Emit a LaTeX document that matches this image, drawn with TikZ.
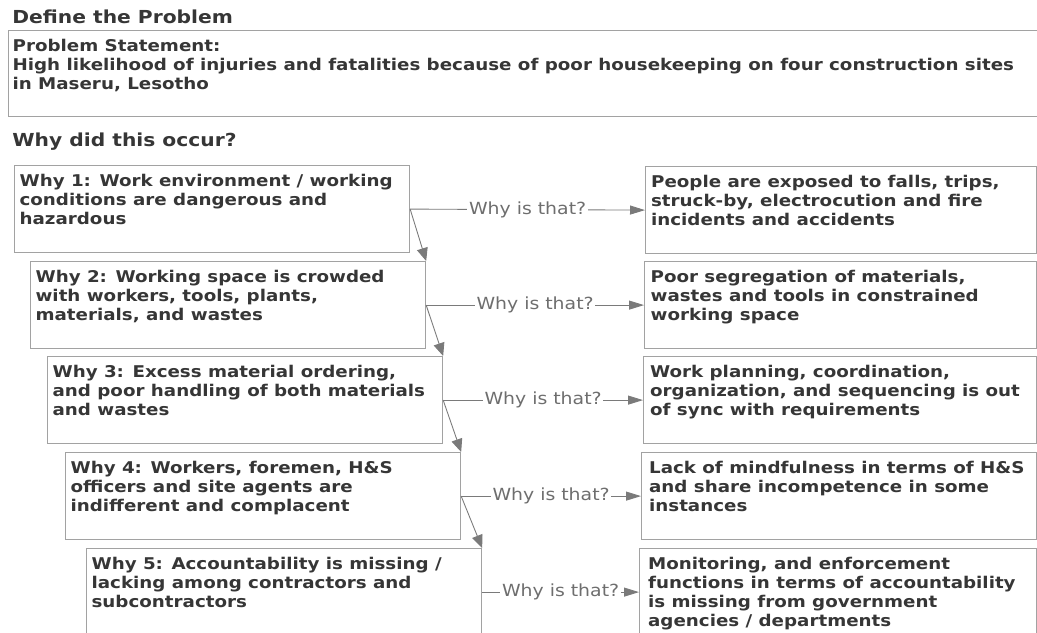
\documentclass[tikz,border=0pt]{standalone}
\usepackage{fontspec}
\setmainfont[FakeStretch=1.13]{DejaVu Sans}
\usetikzlibrary{arrows.meta,positioning}
\definecolor{txtgray}{HTML}{363636}
\definecolor{linegray}{HTML}{A2A2A2}
\definecolor{arrgray}{HTML}{7A7A7A}
\definecolor{lblgray}{HTML}{6E6E6E}
\newcommand{\whytext}[1]{\parbox[c][1.44cm][t]{7.7cm}{\begin{tabular}[t]{@{}l@{}}#1\end{tabular}}}
\newcommand{\anstext}[1]{\parbox[c][1.44cm][t]{7.6cm}{\begin{tabular}[t]{@{}l@{}}#1\end{tabular}}}
\tikzset{
    bodyfont/.style={font=\bfseries\fontsize{9.2}{10.8}\selectfont},
    headtag/.style={text=txtgray,inner sep=0pt,anchor=west,font=\bfseries\fontsize{10.2}{12}\selectfont},
    probbox/.style={bodyfont,draw=linegray,line width=0.7pt,anchor=north west,text=txtgray,inner xsep=0.08cm,inner ysep=0.15cm},
    whybox/.style={bodyfont,draw=linegray,line width=0.7pt,anchor=north west,text=txtgray,inner xsep=0.1cm,inner ysep=0.15cm,minimum width=7.9cm},
    ansbox/.style={whybox,minimum width=#1},
    whyline/.style={draw=arrgray,line width=0.5pt,-{Triangle[length=0.3cm,width=0.18cm]}},
    stepline/.style={draw=arrgray,line width=0.5pt,-{Triangle[length=0.26cm,width=0.22cm]}},
    whylabel/.style={fill=white,inner sep=1pt,text=lblgray,font=\mdseries\fontsize{9.5}{11}\selectfont}
}

\begin{document}
\begin{tikzpicture}[x=0.02cm,y=-0.02cm]
        \useasboundingbox (0,0) rectangle (1037,632);

        % Define the Problem
        \node[headtag] (probtitle) at (12,17) {Define the Problem};
        \node[probbox] (probstatement) at (8,30) {\parbox[c][1.42cm][t]{20.5cm}{\begin{tabular}[t]{@{}l@{}}Problem Statement:\\
            High likelihood of injuries and fatalities because of poor housekeeping on four construction sites\\
            in Maseru, Lesotho\end{tabular}}};

        % Why did this occur?
        \node[headtag] (whytitle) at (12,142) {Why did this occur?};

        % left column, stepping down and right
        \node[whybox] (why1) at (14,165) {\whytext{Why 1: Work environment / working\\ conditions are dangerous and\\ hazardous}};
        \node[whybox] (why2) at (30,261) {\whytext{Why 2: Working space is crowded\\ with workers, tools, plants,\\ materials, and wastes}};
        \node[whybox] (why3) at (47,356) {\whytext{Why 3: Excess material ordering,\\ and poor handling of both materials\\ and wastes}};
        \node[whybox] (why4) at (65,452) {\whytext{Why 4: Workers, foremen, H\&S\\ officers and site agents are\\ indifferent and complacent}};
        \node[whybox] (why5) at (86,548) {\whytext{Why 5: Accountability is missing /\\ lacking among contractors and\\ subcontractors}};

        % right column
        \node[ansbox=7.82cm] (ans1) at (645,166) {\anstext{People are exposed to falls, trips,\\ struck-by, electrocution and fire\\ incidents and accidents}};
        \node[ansbox=7.84cm] (ans2) at (644,261) {\anstext{Poor segregation of materials,\\ wastes and tools in constrained\\ working space}};
        \node[ansbox=7.86cm] (ans3) at (643,356) {\anstext{Work planning, coordination,\\ organization, and sequencing is out\\ of sync with requirements}};
        \node[ansbox=7.9cm] (ans4) at (641,452) {\anstext{Lack of mindfulness in terms of H\&S\\ and share incompetence in some\\ instances}};
        \node[ansbox=7.94cm] (ans5) at (639,548) {\anstext{Monitoring, and enforcement\\ functions in terms of accountability\\ is missing from government\\ agencies / departments}};

        % connectors
        \foreach \i in {1,...,5}
            \draw[whyline] (why\i.east) -- node[whylabel] {Why is that?} (ans\i.west);
        \foreach \i/\j in {1/2,2/3,3/4,4/5}
            \draw[stepline] (why\i.east) -- (why\j.north east);

    \end{tikzpicture}
\end{document}
